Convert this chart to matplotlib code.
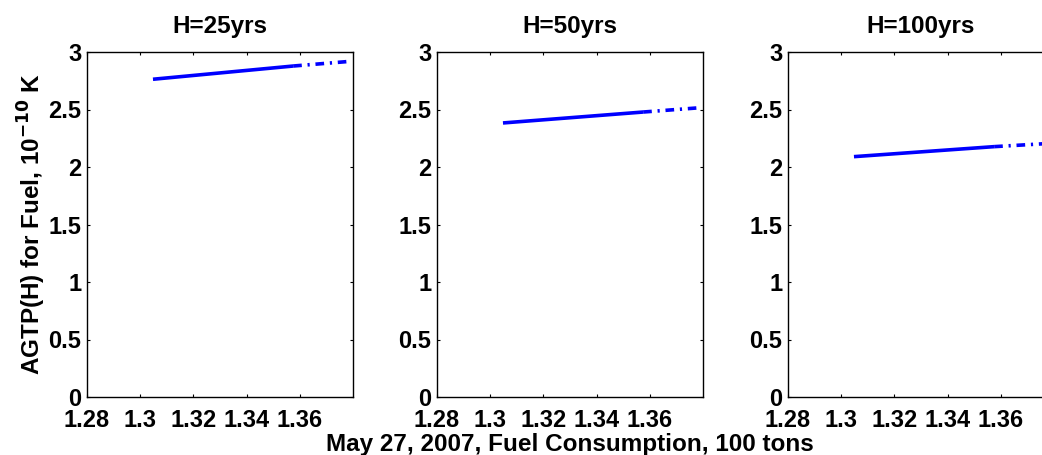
import numpy as np
from matplotlib import pyplot as plt

plt.rcParams['font.family'] = ['Liberation Sans', 'DejaVu Sans']
plt.rcParams['font.weight'] = 'bold'
plt.rcParams['mathtext.default'] = 'bf'

titles = ['H=25yrs', 'H=50yrs', 'H=100yrs']
# observed part (solid) and projected part (dash-dot)
x_obs = [1.3048, 1.3575]
x_proj = [1.3575, 1.3775]
y_obs = [[2.763, 2.878], [2.383, 2.478], [2.090, 2.177]]
y_proj = [[2.878, 2.916], [2.478, 2.513], [2.177, 2.204]]

xticks = [1.28, 1.3, 1.32, 1.34, 1.36]
xticklabels = ['1.28', '1.3', '1.32', '1.34', '1.36']
yticks = [0, 0.5, 1, 1.5, 2, 2.5, 3]
yticklabels = ['0', '0.5', '1', '1.5', '2', '2.5', '3']

fig = plt.figure(figsize=(10.42, 4.55), dpi=100)
lefts = [87 / 1042, 437 / 1042, 788 / 1042]
w = 266 / 1042
b = 58 / 455
h = 345 / 455

for i in range(3):
    ax = fig.add_axes([lefts[i], b, w, h])
    ax.plot(x_obs, y_obs[i], color='#0000ff', lw=2.6, solid_capstyle='butt')
    ax.plot(x_proj, y_proj[i], color='#0000ff', lw=2.6,
            linestyle=(0, (2.4, 1.6, 0.6, 1.6)), dash_capstyle='butt')
    ax.set_xlim(1.28, 1.38)
    ax.set_ylim(0, 3)
    ax.set_xticks(xticks)
    ax.set_xticklabels(xticklabels)
    ax.set_yticks(yticks)
    ax.set_yticklabels(yticklabels)
    ax.tick_params(direction='in', length=2.2, width=0.8, top=True, right=True,
                   labelsize=17)
    ax.tick_params(axis='x', pad=8.5)
    ax.tick_params(axis='y', pad=4)
    for s in ax.spines.values():
        s.set_linewidth(1.0)
    ax.set_title(titles[i], fontsize=17.5, fontweight='bold', pad=14)
    if i == 0:
        ax.set_ylabel('AGTP(H) for Fuel, 10$^{-10}$ K', fontsize=17.5,
                      fontweight='bold', labelpad=0)
    if i == 1:
        ax.set_xlabel('May 27, 2007, Fuel Consumption, 100 tons', fontsize=17.5,
                      fontweight='bold', labelpad=1)

fig.savefig('out.png', dpi=100)
